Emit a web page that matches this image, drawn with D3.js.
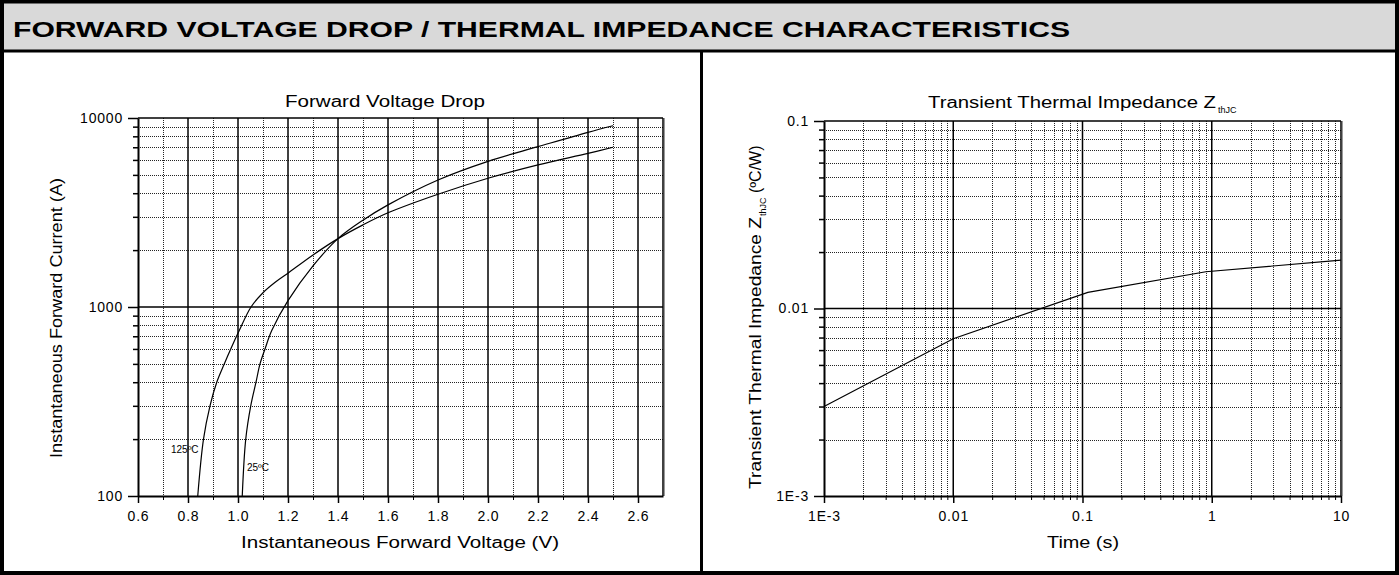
<!DOCTYPE html>
<html>
<head>
<meta charset="utf-8">
<script src="https://cdn.jsdelivr.net/npm/d3@7"></script>
<style>
  html, body { margin: 0; padding: 0; background: #fff; }
  svg { display: block; }
  text { font-family: "Liberation Sans", Arial, Helvetica, sans-serif; fill: #000; }
</style>
</head>
<body>
<svg id="chart" width="1399" height="575"></svg>
<script>
// ---------- DATA ----------
const headerTitle = "FORWARD VOLTAGE DROP / THERMAL IMPEDANCE CHARACTERISTICS";

// Left chart: Forward voltage drop
const fvTitle = "Forward Voltage Drop";
const fvXLabel = "Instantaneous Forward Voltage (V)";
const fvYLabel = "Instantaneous Forward Current (A)";
const fvXTicks = [0.6, 0.8, 1.0, 1.2, 1.4, 1.6, 1.8, 2.0, 2.2, 2.4, 2.6];
const fvXTickLabels = ["0.6", "0.8", "1.0", "1.2", "1.4", "1.6", "1.8", "2.0", "2.2", "2.4", "2.6"];
const fvXMinor = [0.7, 0.9, 1.1, 1.3, 1.5, 1.7, 1.9, 2.1, 2.3, 2.5];
const fvYTicks = [100, 1000, 10000];
const fvYTickLabels = ["100", "1000", "10000"];
const fvYMinor = [200, 300, 400, 500, 600, 700, 800, 900, 2000, 3000, 4000, 5000, 6000, 7000, 8000, 9000];

const v25 = [1.017, 1.031, 1.051, 1.072, 1.088, 1.108, 1.135, 1.20, 1.30, 1.40, 1.50, 1.60, 1.80, 2.00, 2.20, 2.40, 2.50];
const i25 = [100, 200, 300, 400, 500, 600, 750, 1080, 1650, 2300, 2880, 3470, 4700, 5900, 7050, 8400, 9100];
const v125 = [0.839, 0.862, 0.888, 0.915, 0.945, 0.971, 1.005, 1.052, 1.10, 1.15, 1.20, 1.30, 1.40, 1.50, 1.60, 1.80, 2.00, 2.20, 2.40, 2.50];
const i125 = [100, 200, 300, 400, 500, 600, 750, 1000, 1190, 1355, 1510, 1885, 2300, 2720, 3150, 3950, 4800, 5650, 6500, 7000];
const curveLabels = ["125ºC", "25ºC"];

// Right chart: Transient thermal impedance
const thTitleMain = "Transient Thermal Impedance Z";
const thSub = "thJC";
const thXLabel = "Time (s)";
const thYLabelMain = "Transient Thermal Impedance Z";
const thYLabelTail = " (ºC/W)";
const thXTicks = [0.001, 0.01, 0.1, 1, 10];
const thXTickLabels = ["1E-3", "0.01", "0.1", "1", "10"];
const thYTicks = [0.001, 0.01, 0.1];
const thYTickLabels = ["1E-3", "0.01", "0.1"];
const thTime = [0.001, 0.01, 0.11, 0.9, 10];
const thZ = [0.003, 0.0069, 0.0122, 0.0157, 0.0181];

// ---------- DRAW ----------
const svg = d3.select("#chart");
const W = 1399, H = 575;

svg.append("rect").attr("x", 0).attr("y", 0).attr("width", W).attr("height", H).attr("fill", "#fff");
svg.append("rect").attr("x", 0).attr("y", 0).attr("width", W).attr("height", 51).attr("fill", "#d9d9d9");

svg.append("text").attr("x", 13).attr("y", 37)
  .attr("font-size", 22).attr("font-weight", "bold")
  .attr("textLength", 1057).attr("lengthAdjust", "spacingAndGlyphs")
  .text(headerTitle);

// frame lines
svg.append("rect").attr("x", 2).attr("y", 1.5).attr("width", W - 4).attr("height", H - 3.5)
  .attr("fill", "none").attr("stroke", "#000").attr("stroke-width", 4);
svg.append("line").attr("x1", 0).attr("x2", W).attr("y1", 51).attr("y2", 51)
  .attr("stroke", "#000").attr("stroke-width", 3);
svg.append("line").attr("x1", 701.5).attr("x2", 701.5).attr("y1", 51).attr("y2", H)
  .attr("stroke", "#000").attr("stroke-width", 3);

function dotted(sel) {
  return sel.attr("stroke", "#000").attr("stroke-width", 1).attr("stroke-dasharray", "1,1").attr("opacity", 0.85);
}

function drawPanel(opts) {
  const { x, y, xMajor, xMajorLabels, xMinor, yMajor, yMajorLabels, yMinor } = opts;
  const g = svg.append("g");
  const [x0, x1] = x.range();
  const [y0, y1] = y.range(); // y0 bottom, y1 top

  // minor grid
  g.selectAll(".vmin").data(xMinor).join("line")
    .attr("x1", d => Math.round(x(d)) + 0.5).attr("x2", d => Math.round(x(d)) + 0.5)
    .attr("y1", y1).attr("y2", y0).call(dotted);
  g.selectAll(".hmin").data(yMinor).join("line")
    .attr("y1", d => Math.round(y(d)) + 0.5).attr("y2", d => Math.round(y(d)) + 0.5)
    .attr("x1", x0).attr("x2", x1).call(dotted);
  // major grid
  g.selectAll(".vmaj").data(xMajor.filter(d => x(d) > x0 + 1 && x(d) < x1 - 1)).join("line")
    .attr("x1", d => x(d)).attr("x2", d => x(d))
    .attr("y1", y1).attr("y2", y0).attr("stroke", "#000").attr("stroke-width", 1.5);
  g.selectAll(".hmaj").data(yMajor.filter(d => y(d) < y0 - 1 && y(d) > y1 + 1)).join("line")
    .attr("y1", d => y(d)).attr("y2", d => y(d))
    .attr("x1", x0).attr("x2", x1).attr("stroke", "#000").attr("stroke-width", 1.5);

  // border top/right
  g.append("line").attr("x1", x0).attr("x2", x1).attr("y1", y1).attr("y2", y1).attr("stroke", "#000").attr("stroke-width", 1.5);
  g.append("line").attr("x1", x1).attr("x2", x1).attr("y1", y1).attr("y2", y0).attr("stroke", "#000").attr("stroke-width", 1.5);
  g.append("line").attr("x1", x1 + 1.5).attr("x2", x1 + 1.5).attr("y1", y1).attr("y2", y0).attr("stroke", "#999").attr("stroke-width", 1);

  // axes
  const xa = g.append("g").attr("transform", `translate(0,${y0})`)
    .call(d3.axisBottom(x).tickValues(xMajor).tickSize(7).tickSizeOuter(0)
      .tickFormat((d, i) => xMajorLabels[i]).tickPadding(8));
  xa.attr("font-family", null).attr("font-size", null);
  xa.select(".domain").attr("stroke-width", 2);
  xa.selectAll(".tick line").attr("stroke-width", 1.5);
  xa.selectAll("text").attr("font-size", 14).attr("letter-spacing", "0.8px");
  const xm = g.append("g").attr("transform", `translate(0,${y0})`)
    .call(d3.axisBottom(x).tickValues(xMinor).tickSize(4).tickSizeOuter(0).tickFormat(""));
  xm.select(".domain").remove();

  const ya = g.append("g").attr("transform", `translate(${x0},0)`)
    .call(d3.axisLeft(y).tickValues(yMajor).tickSize(10).tickSizeOuter(0)
      .tickFormat((d, i) => yMajorLabels[i]).tickPadding(5));
  ya.attr("font-family", null).attr("font-size", null);
  ya.select(".domain").attr("stroke-width", 2);
  ya.selectAll(".tick line").attr("stroke-width", 1.5);
  ya.selectAll("text").attr("font-size", 14).attr("letter-spacing", "0.8px");
  const ym = g.append("g").attr("transform", `translate(${x0},0)`)
    .call(d3.axisLeft(y).tickValues(yMinor).tickSize(5).tickSizeOuter(0).tickFormat(""));
  ym.select(".domain").remove();
  ym.selectAll(".tick line").attr("stroke-width", 1.5);
  return g;
}

// ----- left panel -----
const fx = d3.scaleLinear().domain([0.6, 2.7]).range([138, 663]);
const fy = d3.scaleLog().domain([100, 10000]).range([496, 118]);
drawPanel({ x: fx, y: fy, xMajor: fvXTicks, xMajorLabels: fvXTickLabels, xMinor: fvXMinor,
  yMajor: fvYTicks, yMajorLabels: fvYTickLabels, yMinor: fvYMinor });

const fLine = d3.line().curve(d3.curveCatmullRom.alpha(0.5)).x(d => fx(d[0])).y(d => fy(d[1]));
svg.append("path").datum(v25.map((v, i) => [v, i25[i]])).attr("d", fLine)
  .attr("fill", "none").attr("stroke", "#000").attr("stroke-width", 1.2);
svg.append("path").datum(v125.map((v, i) => [v, i125[i]])).attr("d", fLine)
  .attr("fill", "none").attr("stroke", "#000").attr("stroke-width", 1.2);

svg.append("text").attr("x", fx(0.732)).attr("y", fy(168)).attr("font-size", 10).text(curveLabels[0]);
svg.append("text").attr("x", fx(1.036)).attr("y", fy(136)).attr("font-size", 10).text(curveLabels[1]);

svg.append("text").attr("x", 285).attr("y", 107).attr("font-size", 16)
  .attr("textLength", 200).attr("lengthAdjust", "spacingAndGlyphs").text(fvTitle);
svg.append("text").attr("x", 241).attr("y", 548).attr("font-size", 16)
  .attr("textLength", 318).attr("lengthAdjust", "spacingAndGlyphs").text(fvXLabel);
svg.append("text").attr("transform", "translate(62,458) rotate(-90)").attr("font-size", 16)
  .attr("textLength", 280).attr("lengthAdjust", "spacingAndGlyphs").text(fvYLabel);

// ----- right panel -----
const tx = d3.scaleLog().domain([0.001, 10]).range([824, 1341]);
const ty = d3.scaleLog().domain([0.001, 0.1]).range([496, 121]);
const txMinor = tx.ticks().filter(d => !thXTicks.some(m => Math.abs(m - d) / m < 1e-6));
const tyMinor = ty.ticks().filter(d => !thYTicks.some(m => Math.abs(m - d) / m < 1e-6));
drawPanel({ x: tx, y: ty, xMajor: thXTicks, xMajorLabels: thXTickLabels, xMinor: txMinor,
  yMajor: thYTicks, yMajorLabels: thYTickLabels, yMinor: tyMinor });

const tLine = d3.line().x(d => tx(d[0])).y(d => ty(d[1]));
svg.append("path").datum(thTime.map((t, i) => [t, thZ[i]])).attr("d", tLine)
  .attr("fill", "none").attr("stroke", "#000").attr("stroke-width", 1.2);

const tt = svg.append("text").attr("x", 928).attr("y", 108).attr("font-size", 16);
tt.append("tspan").attr("textLength", 288).attr("lengthAdjust", "spacingAndGlyphs").text(thTitleMain);
tt.append("tspan").attr("font-size", 9).attr("dx", 2).attr("dy", 5).text(thSub);

svg.append("text").attr("x", 1047).attr("y", 548).attr("font-size", 16)
  .attr("textLength", 72).attr("lengthAdjust", "spacingAndGlyphs").text(thXLabel);

const yt = svg.append("text").attr("transform", "translate(761,489) rotate(-90)").attr("font-size", 16);
yt.append("tspan").attr("textLength", 272).attr("lengthAdjust", "spacingAndGlyphs").text(thYLabelMain);
yt.append("tspan").attr("font-size", 9).attr("dx", 1).attr("dy", 5).text(thSub);
yt.append("tspan").attr("dy", -5).attr("textLength", 52).attr("lengthAdjust", "spacingAndGlyphs").text(thYLabelTail);
</script>
</body>
</html>
